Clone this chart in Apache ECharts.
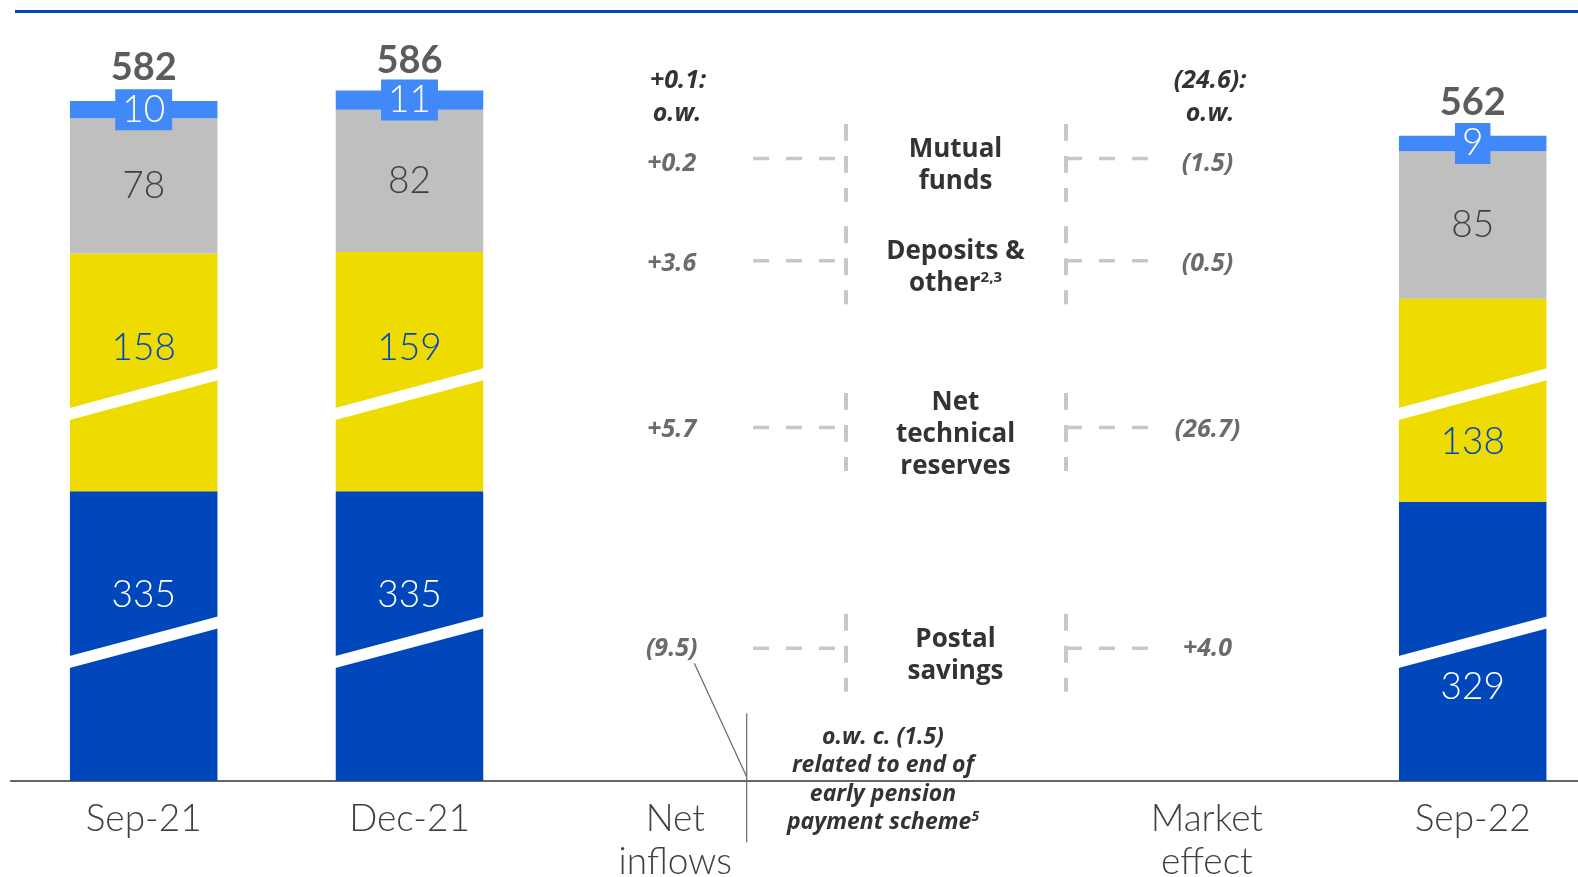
<!DOCTYPE html>
<html><head><meta charset="utf-8">
<script src="https://cdn.jsdelivr.net/npm/echarts@6/dist/echarts.min.js"></script>
<style>html,body{margin:0;padding:0;background:#fff}#c{width:1578px;height:877px}</style>
</head><body><div id="c"></div>
<script>
// ---------- data ----------
const categories = ['Sep-21', 'Dec-21', 'Net\ninflows', '', 'Market\neffect', 'Sep-22'];
const postalSavings = [335, 335, null, null, null, 329];
const netTechnicalReserves = [158, 159, null, null, null, 138];
const depositsOther = [78, 82, null, null, null, 85];
const mutualFunds = [10, 11, null, null, null, 9];
const totals = [582, 586, null, null, null, 562];
const components = ['Mutual\nfunds', 'Deposits &\nother{s|2,3}', 'Net\ntechnical\nreserves', 'Postal\nsavings'];
const netInflowsTotal = '+0.1:';
const netInflows = ['+0.2', '+3.6', '+5.7', '(9.5)'];
const marketEffectTotal = '(24.6):';
const marketEffect = ['(1.5)', '(0.5)', '(26.7)', '+4.0'];
const owLabel = 'o.w.';
const footnote = 'o.w. c. (1.5)\nrelated to end of\nearly pension\npayment scheme{s|5}';
const yMin = 0, yMax = 600;
const yBreaks = [{start: 76, end: 252, gap: 8}, {start: 387, end: 416, gap: 8}];

// ---------- styling ----------
const FONT = 'Lato';
const FONT2 = '"Open Sans"';
const C = {postal: '#0047BB', reserves: '#EEDC00', deposits: '#BFBFBF', mutual: '#4189F8'};
const nudge = {postal: [-41, -41, 0, 0, 0, 46], reserves: [-24, -24, 0, 0, 0, 42]};

function items(arr, nd) {
  return arr.map((v, i) => v == null ? '-' : (nd ? {value: v, label: {offset: [0, nd[i]]}} : v));
}
const valLabel = (color, extra) => Object.assign({
  show: true, position: 'inside', fontFamily: FONT, fontSize: 37, fontWeight: 300, color: color
}, extra || {});

const slashData = [];
postalSavings.forEach((v, i) => { if (v != null) yBreaks.forEach((b, j) => slashData.push([i, j])); });

const chart = echarts.init(document.getElementById('c'), null, {renderer: 'canvas'});
const option = {
  animation: false,
  backgroundColor: '#fff',
  grid: {left: 10.8, width: 1594.8, top: 68, bottom: 96, containLabel: false, outerBoundsMode: 'none'},
  xAxis: {
    type: 'category', data: categories,
    axisLine: {show: true, lineStyle: {color: '#666', width: 2}},
    axisTick: {show: false},
    axisLabel: {interval: 0, fontFamily: FONT, fontSize: 37, fontWeight: 300, color: '#404040', lineHeight: 43, margin: 17}
  },
  yAxis: {
    type: 'value', min: yMin, max: yMax,
    breaks: yBreaks,
    breakArea: {show: false},
    axisLine: {show: false}, axisTick: {show: false}, axisLabel: {show: false}, splitLine: {show: false}
  },
  series: [
    {name: 'Postal savings', type: 'bar', stack: 'a', barWidth: 147.5, itemStyle: {color: C.postal},
     label: valLabel('#fff'), data: items(postalSavings, nudge.postal)},
    {name: 'Net technical reserves', type: 'bar', stack: 'a', barWidth: 147.5, itemStyle: {color: C.reserves},
     label: valLabel('#0047BB'), data: items(netTechnicalReserves, nudge.reserves)},
    {name: 'Deposits & other', type: 'bar', stack: 'a', barWidth: 147.5, itemStyle: {color: C.deposits},
     label: valLabel('#404040'), data: items(depositsOther)},
    {name: 'Mutual funds', type: 'bar', stack: 'a', barWidth: 147.5, itemStyle: {color: C.mutual},
     label: valLabel('#fff', {backgroundColor: C.mutual, padding: [2, 7, 2, 7], lineHeight: 37}),
     data: items(mutualFunds)},
    {name: 'breaks', type: 'custom', z: 3, silent: true, data: slashData,
     renderItem: function (params, api) {
       const ci = api.value(0), b = yBreaks[api.value(1)];
       const a = api.coord([ci, b.start]), c = api.coord([ci, b.end]);
       const cx = a[0], cy = (a[1] + c[1]) / 2, hw = 76, rise = 20.3, th = 6;
       return {type: 'polygon', shape: {points: [
         [cx - hw, cy + rise - th], [cx + hw, cy - rise - th], [cx + hw, cy - rise + th], [cx - hw, cy + rise + th]
       ]}, style: {fill: '#fff'}};
     }},
    {name: 'Total', type: 'scatter', z: 5, symbolSize: 1, itemStyle: {color: 'rgba(0,0,0,0)'},
     label: {show: true, position: 'top', distance: 12, formatter: '{c}', fontFamily: FONT, fontSize: 38,
             fontWeight: 'bold', color: '#333', lineHeight: 38},
     data: totals.map(v => v == null ? '-' : v)}
  ]
};
chart.setOption(option);

// ---------- annotations (middle columns) ----------
const G = [];
const txt = (x, y, text, font, fill, extra) => G.push({type: 'text', x: x, y: y, z: 10,
  style: Object.assign({text: text, font: font, fill: fill, align: 'center', verticalAlign: 'middle'}, extra || {})});
const ln = (x1, y1, x2, y2, stroke, w, dash) => G.push({type: 'line', z: 9, silent: true,
  shape: {x1: x1, y1: y1, x2: x2, y2: y2}, style: {stroke: stroke, lineWidth: w, lineDash: dash || null}});

ln(15, 11.5, 1578, 11.5, '#0047BB', 3);
const hdrFont = 'italic bold 25px ' + FONT2;
txt(678, 81, netInflowsTotal, hdrFont, '#333');
txt(677, 114, owLabel, hdrFont, '#333');
txt(1210, 81, marketEffectTotal, hdrFont, '#333');
txt(1210, 114, owLabel, hdrFont, '#333');

const rowY = [158.5, 260.8, 427.4, 648.2];
const valDy = [5, 3, 2, 1];
const dashC = '#c8c8c8';
rowY.forEach((y, r) => {
  txt(671.7, y + valDy[r], netInflows[r], hdrFont, '#6b6b6b');
  txt(1207.5, y + valDy[r], marketEffect[r], hdrFont, '#6b6b6b');
  ln(753, y, 835, y, dashC, 3.5, [16, 17]);
  ln(1148, y, 1066, y, dashC, 3.5, [16, 17]);
  ln(846, y - 34.5, 846, y + 43.5, dashC, 4, [17, 15]);
  ln(1066, y - 34.5, 1066, y + 43.5, dashC, 4, [17, 15]);
  txt(955.5, y + 7, components[r], 'bold 26px ' + FONT2, '#333', {lineHeight: 32,
    rich: {s: {fontFamily: 'Open Sans', fontWeight: 'bold', fontSize: 15, fill: '#333', padding: [0, 0, 12, 0]}}});
});

ln(694.3, 663.3, 746.7, 776.7, '#666', 1.2);
ln(746.7, 713.3, 746.7, 842.3, '#666', 1.2);
txt(883, 780, footnote, 'italic bold 23px ' + FONT2, '#333', {lineHeight: 28.6,
  rich: {s: {fontFamily: 'Open Sans', fontWeight: 'bold', fontStyle: 'italic', fontSize: 14, fill: '#333', padding: [0, 0, 12, 0]}}});

chart.setOption({graphic: {elements: G}});
</script>
</body></html>
